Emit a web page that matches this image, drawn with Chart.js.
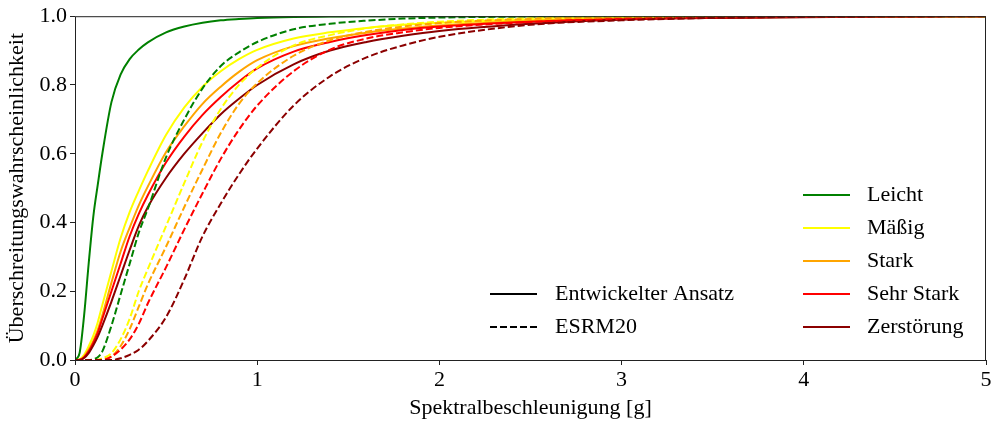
<!DOCTYPE html>
<html lang="de">
<head>
  <meta charset="UTF-8">
  <title>Fragilitätskurven</title>
  <script src="https://cdn.jsdelivr.net/npm/chart.js"></script>
  <style>
    body { margin: 0; background: #fff; }
    canvas { display: block; }
  </style>
</head>
<body>
  <canvas id="chart" width="994" height="423"></canvas>

  <script>
    // Spektralbeschleunigung [g] – Stützstellen
    const xs = [0, 0.025, 0.05, 0.075, 0.1, 0.125, 0.15, 0.2, 0.25, 0.3, 0.35, 0.4, 0.5, 0.6, 0.7, 0.8, 0.9, 1.0,
                1.2, 1.4, 1.6, 1.8, 2.0, 2.5, 3.0, 3.5, 4.0, 4.5, 5.0];

    // Entwickelter Ansatz (durchgezogen)
    const leichtNeu      = [0, 0.02, 0.13, 0.28, 0.415, 0.51, 0.6, 0.75, 0.83, 0.875, 0.903, 0.924, 0.953, 0.97, 0.981, 0.988, 0.992, 0.995,
                            0.998, 0.999, 1, 1, 1, 1, 1, 1, 1, 1, 1];
    const maessigNeu     = [0, 0.002, 0.015, 0.04, 0.07, 0.11, 0.16, 0.258, 0.354, 0.43, 0.492, 0.55, 0.655, 0.735, 0.795, 0.84, 0.875, 0.902,
                            0.935, 0.953, 0.966, 0.975, 0.981, 0.99, 0.995, 0.997, 0.998, 0.999, 1];
    const starkNeu       = [0, 0.001, 0.01, 0.03, 0.055, 0.088, 0.13, 0.225, 0.315, 0.385, 0.45, 0.505, 0.605, 0.68, 0.745, 0.795, 0.838, 0.872,
                            0.913, 0.936, 0.952, 0.964, 0.973, 0.986, 0.993, 0.996, 0.998, 0.999, 1];
    const sehrStarkNeu   = [0, 0.001, 0.008, 0.025, 0.05, 0.08, 0.12, 0.2, 0.28, 0.36, 0.425, 0.48, 0.575, 0.65, 0.713, 0.765, 0.81, 0.848,
                            0.897, 0.925, 0.945, 0.96, 0.97, 0.984, 0.992, 0.996, 0.998, 0.999, 1];
    const zerstoerungNeu = [0, 0, 0.006, 0.02, 0.042, 0.068, 0.1, 0.17, 0.245, 0.32, 0.39, 0.445, 0.53, 0.6, 0.66, 0.715, 0.76, 0.8,
                            0.86, 0.9, 0.925, 0.943, 0.957, 0.978, 0.99, 0.995, 0.997, 0.999, 1];

    // ESRM20 (gestrichelt)
    const leichtEsrm      = [0, 0, 0, 0, 0.002, 0.008, 0.025, 0.1, 0.19, 0.28, 0.37, 0.44, 0.59, 0.7, 0.79, 0.855, 0.895, 0.925,
                             0.962, 0.978, 0.987, 0.993, 0.996, 0.999, 1, 1, 1, 1, 1];
    const maessigEsrm     = [0, 0, 0, 0, 0, 0.001, 0.005, 0.02, 0.06, 0.12, 0.2, 0.265, 0.39, 0.515, 0.635, 0.73, 0.8, 0.85,
                             0.915, 0.945, 0.965, 0.976, 0.984, 0.994, 0.997, 0.999, 1, 1, 1];
    const starkEsrm       = [0, 0, 0, 0, 0, 0, 0.002, 0.01, 0.04, 0.09, 0.155, 0.22, 0.33, 0.445, 0.555, 0.66, 0.745, 0.805,
                             0.885, 0.93, 0.955, 0.97, 0.98, 0.992, 0.997, 0.999, 1, 1, 1];
    const sehrStarkEsrm   = [0, 0, 0, 0, 0, 0, 0, 0.01, 0.03, 0.06, 0.105, 0.165, 0.27, 0.38, 0.485, 0.585, 0.67, 0.74,
                             0.84, 0.903, 0.935, 0.953, 0.966, 0.983, 0.992, 0.996, 0.998, 0.999, 1];
    const zerstoerungEsrm = [0, 0, 0, 0, 0, 0, 0, 0, 0.005, 0.015, 0.03, 0.055, 0.125, 0.235, 0.36, 0.455, 0.54, 0.615,
                             0.74, 0.825, 0.88, 0.915, 0.94, 0.975, 0.988, 0.995, 0.998, 0.999, 1];

    const stateNames  = ['Leicht', 'Mäßig', 'Stark', 'Sehr Stark', 'Zerstörung'];
    const stateColors = ['#008000', '#ffff00', '#ffa500', '#ff0000', '#8b0000'];
    const neuSeries   = [leichtNeu, maessigNeu, starkNeu, sehrStarkNeu, zerstoerungNeu];
    const esrmSeries  = [leichtEsrm, maessigEsrm, starkEsrm, sehrStarkEsrm, zerstoerungEsrm];
    const methodNames = ['Entwickelter Ansatz', 'ESRM20'];

    const FONT = '"Liberation Serif", "DejaVu Serif", serif';
    const DASH = [7, 3];

    const toPoints = ys => ys.map((y, i) => ({ x: xs[i], y }));

    const datasets = [];
    stateNames.forEach((name, i) => {
      datasets.push({
        label: name + ' (' + methodNames[0] + ')',
        data: toPoints(neuSeries[i]),
        borderColor: stateColors[i],
        borderWidth: 2,
        order: 20 - i
      });
    });
    stateNames.forEach((name, i) => {
      datasets.push({
        label: name + ' (' + methodNames[1] + ')',
        data: toPoints(esrmSeries[i]),
        borderColor: stateColors[i],
        borderWidth: 2,
        borderDash: DASH,
        order: 10 - i
      });
    });

    // rahmen + beide legenden von hand, wie im original
    const frameAndLegends = {
      id: 'frameAndLegends',
      afterDraw(chart) {
        const { ctx, chartArea: a } = chart;
        ctx.save();
        ctx.strokeStyle = '#222';
        ctx.lineWidth = 1;
        ctx.strokeRect(a.left + 0.5, a.top + 0.5, a.width - 1, a.height);

        ctx.font = '22px ' + FONT;
        ctx.fillStyle = '#000';
        ctx.textBaseline = 'middle';
        ctx.lineWidth = 2;

        // linienstil-legende
        methodNames.forEach((name, i) => {
          const y = 294 + i * 33;
          ctx.strokeStyle = '#000';
          ctx.setLineDash(i === 1 ? DASH : []);
          ctx.beginPath();
          ctx.moveTo(490, y);
          ctx.lineTo(537, y);
          ctx.stroke();
          ctx.fillText(name, 555, y);
        });

        // farb-legende
        ctx.setLineDash([]);
        stateNames.forEach((name, i) => {
          const y = 195 + i * 33;
          ctx.strokeStyle = stateColors[i];
          ctx.beginPath();
          ctx.moveTo(803, y);
          ctx.lineTo(850, y);
          ctx.stroke();
          ctx.fillText(name, 867, y);
        });
        ctx.restore();
      }
    };

    new Chart(document.getElementById('chart'), {
      type: 'line',
      data: { datasets },
      options: {
        responsive: false,
        animation: false,
        devicePixelRatio: 1,
        layout: { padding: { top: 15, right: 8, left: 0, bottom: 0 } },
        elements: {
          point: { radius: 0 },
          line: { cubicInterpolationMode: 'monotone', fill: false }
        },
        plugins: {
          legend: { display: false },
          tooltip: { enabled: false }
        },
        scales: {
          x: {
            type: 'linear',
            min: 0,
            max: 5,
            afterFit: s => { s.height = 63; },
            ticks: { stepSize: 1, color: '#000', padding: 2, font: { family: FONT, size: 22 } },
            grid: { drawOnChartArea: false, drawTicks: true, tickLength: 5, color: '#222' },
            border: { display: false },
            title: {
              display: true,
              text: 'Spektralbeschleunigung [g]',
              color: '#000',
              font: { family: FONT, size: 22 },
              padding: { top: 0, bottom: 2 }
            }
          },
          y: {
            min: 0,
            max: 1,
            afterFit: s => { s.width = 75; },
            ticks: {
              stepSize: 0.2,
              color: '#000',
              padding: 3,
              font: { family: FONT, size: 22 },
              callback: v => v.toFixed(1)
            },
            grid: { drawOnChartArea: false, drawTicks: true, tickLength: 5, color: '#222' },
            border: { display: false },
            title: {
              display: true,
              text: 'Überschreitungswahrscheinlichkeit',
              color: '#000',
              font: { family: FONT, size: 22 },
              padding: { top: 4, bottom: 0 }
            }
          }
        }
      },
      plugins: [frameAndLegends]
    });
  </script>
</body>
</html>
